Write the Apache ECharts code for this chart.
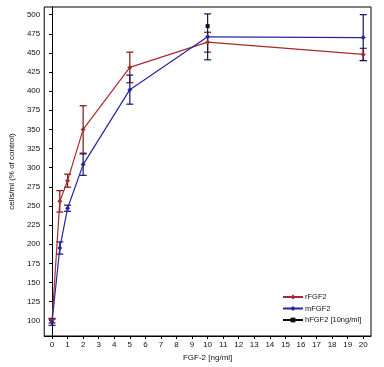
<!DOCTYPE html>
<html><head><meta charset="utf-8">
<script src="https://cdn.jsdelivr.net/npm/echarts@6/dist/echarts.min.js"></script>
<style>html,body{margin:0;padding:0;background:#fff}#c{width:384px;height:367px}</style>
</head><body><div id="c"></div>
<script>
var doses = [0, 0.5, 1, 2, 5, 10, 20];
var rFGF2 = [100, 256, 283, 350, 431, 464, 448];
var rFGF2Err = [3, 14, 8.5, 31, 20, 13, 8];
var mFGF2 = [98, 195, 247, 304, 402, 471, 470];
var mFGF2Err = [4, 8, 4, 14, 19, 30, 30];
var hDose = [10];
var hFGF2 = [485];
var xTicks = [0,1,2,3,4,5,6,7,8,9,10,11,12,13,14,15,16,17,18,19,20];
var yTicks = [100,125,150,175,200,225,250,275,300,325,350,375,400,425,450,475,500];

var RED = '#a82a2c', BLUE = '#2626a0', RED_D = '#7a1414', BLUE_D = '#14145e';

function pairs(xs, ys){ return xs.map(function(x,i){ return [x, ys[i]]; }); }
function errData(xs, ys, es){ return xs.map(function(x,i){ return [x, ys[i]-es[i], ys[i]+es[i]]; }); }
function errSeries(data, color){
  return {
    type: 'custom', silent: true, z: 3,
    renderItem: function(params, api){
      var lo = api.coord([api.value(0), api.value(1)]);
      var hi = api.coord([api.value(0), api.value(2)]);
      var w = 3.5;
      var st = {stroke: color, lineWidth: 1.2};
      return {type: 'group', children: [
        {type: 'line', shape: {x1: lo[0], y1: lo[1], x2: hi[0], y2: hi[1]}, style: st},
        {type: 'line', shape: {x1: lo[0]-w, y1: lo[1], x2: lo[0]+w, y2: lo[1]}, style: st},
        {type: 'line', shape: {x1: hi[0]-w, y1: hi[1], x2: hi[0]+w, y2: hi[1]}, style: st}
      ]};
    },
    encode: {x: 0, y: [1, 2]},
    data: data
  };
}

var chart = echarts.init(document.getElementById('c'), null, {renderer: 'canvas'});
var font = 'Liberation Sans, Arial, sans-serif';
chart.setOption({
  animation: false,
  textStyle: {fontFamily: font},
  grid: {left: 42, right: 13, top: 7, bottom: 30, show: true, borderColor: '#000', borderWidth: 1},
  legend: {
    orient: 'vertical', left: 277, top: 288, itemGap: 3.5, itemWidth: 20, itemHeight: 6,
    textStyle: {fontSize: 7.5, color: '#111', fontFamily: font, padding: [0,0,0,-3]},
    data: ['rFGF2', 'mFGF2', 'hFGF2 [10ng/ml]']
  },
  xAxis: {
    type: 'value', min: -0.5, max: 20.5,
    name: 'FGF-2 [ng/ml]', nameLocation: 'middle', nameGap: 18,
    nameTextStyle: {fontSize: 8, color: '#111'},
    axisLine: {lineStyle: {color: '#000', width: 1}},
    axisTick: {customValues: xTicks, length: 3, lineStyle: {color: '#000'}},
    axisLabel: {customValues: xTicks, fontSize: 8, color: '#111', margin: 5},
    splitLine: {show: false}
  },
  yAxis: {
    type: 'value', min: 80, max: 510,
    name: 'cells/ml (% of control)', nameLocation: 'middle', nameGap: 28,
    nameTextStyle: {fontSize: 8, color: '#111'},
    axisLine: {show: true, lineStyle: {color: '#000', width: 1}},
    axisTick: {show: true, customValues: yTicks, length: 3, lineStyle: {color: '#000'}},
    axisLabel: {customValues: yTicks, fontSize: 8, color: '#111', margin: 4},
    splitLine: {show: false}
  },
  series: [
    errSeries(errData(doses, rFGF2, rFGF2Err), RED_D),
    errSeries(errData(doses, mFGF2, mFGF2Err), BLUE_D),
    {name: 'rFGF2', type: 'line', data: pairs(doses, rFGF2), symbol: 'diamond', symbolSize: 5,
     lineStyle: {color: RED, width: 1.2}, itemStyle: {color: RED}, z: 4},
    {name: 'mFGF2', type: 'line', data: pairs(doses, mFGF2), symbol: 'diamond', symbolSize: 5,
     lineStyle: {color: BLUE, width: 1.2}, itemStyle: {color: BLUE}, z: 4},
    {name: 'hFGF2 [10ng/ml]', type: 'line', data: pairs(hDose, hFGF2), symbol: 'rect', symbolSize: 4,
     lineStyle: {color: '#000', width: 1.2}, itemStyle: {color: '#111'}, z: 5}
  ]
});
</script></body></html>
